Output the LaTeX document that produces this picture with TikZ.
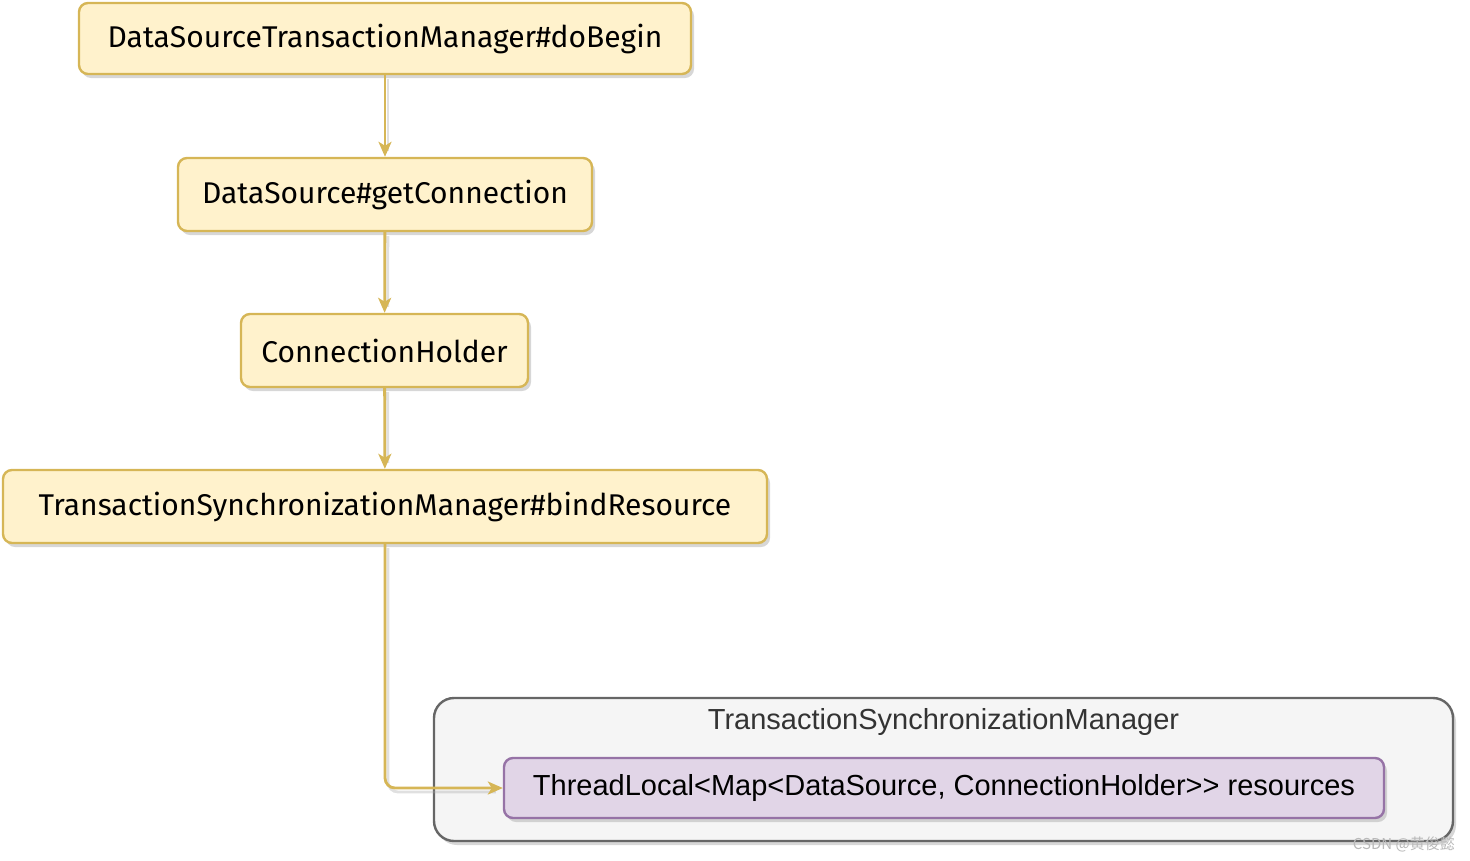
\documentclass[tikz,border=0pt]{standalone}
\usepackage{fontspec}
\setmainfont{Liberation Sans}
\newfontfamily\handfont{Fira Sans}
\newfontfamily\cjkfont{Noto Sans CJK SC}
\usetikzlibrary{shadows,arrows.meta}
\definecolor{yfill}{HTML}{FFF2CC}
\definecolor{ydraw}{HTML}{D6B656}
\definecolor{pfill}{HTML}{E1D5E7}
\definecolor{pdraw}{HTML}{9673A6}
\definecolor{gfill}{HTML}{F5F5F5}
\definecolor{gdraw}{HTML}{666666}
\tikzset{
  shad/.style={drop shadow={shadow xshift=3pt,shadow yshift=-4pt,fill=gray!70,opacity=0.45}},
  ybox/.style={draw=ydraw,fill=yfill,line width=2.4pt,rounded corners=9pt,shad,
    inner sep=0pt,font=\handfont\fontsize{30}{36}\selectfont},
  gbox/.style={draw=gdraw,fill=gfill,line width=2.4pt,rounded corners=20pt,shad},
  pbox/.style={draw=pdraw,fill=pfill,line width=2.4pt,rounded corners=9pt,shad,
    inner sep=0pt,font=\fontsize{29}{34}\selectfont},
  conn/.style={draw=ydraw,line width=2.8pt,-{Stealth[length=15pt,width=13pt,inset=4pt]},rounded corners=10pt},
  connshad/.style={draw=gray!70,opacity=0.35,line width=2.8pt,rounded corners=10pt,shorten >=10pt},
}
\begin{document}
\begin{tikzpicture}[x=1pt,y=-1pt]
\useasboundingbox (0,0) rectangle (1470,860);
\node[ybox,minimum width=612pt,minimum height=71pt] (a) at (385,38.5) {DataSourceTransactionManager\#doBegin};
\node[ybox,minimum width=414pt,minimum height=73pt] (b) at (385,194.5) {DataSource\#getConnection};
\node[ybox,minimum width=287pt,minimum height=73pt] (c) at (384.5,350.5) {ConnectionHolder};
\node[ybox,minimum width=764pt,minimum height=73pt] (d) at (385,506.5) {TransactionSynchronizationManager\#bindResource};
\node[gbox,minimum width=1019pt,minimum height=143pt] (g) at (943.5,769.5) {};
\node[font=\fontsize{29}{34}\selectfont,text=black!80] (gt) at (943.5,722) {TransactionSynchronizationManager};
\begin{scope}[transform canvas={xshift=3pt,yshift=-4pt}]
\draw[connshad] (a) -- (b);
\draw[connshad] (b) -- (c);
\draw[connshad] (c) -- (d);
\end{scope}
\node[pbox,minimum width=880pt,minimum height=60pt] (p) at (944,788) {ThreadLocal<Map<DataSource, ConnectionHolder>{}> resources};
\begin{scope}[transform canvas={xshift=3pt,yshift=-4pt}]
\draw[connshad] (d.south) |- (p.west);
\end{scope}
\draw[conn] (a) -- (b);
\draw[conn] (b) -- (c);
\draw[conn] (c) -- (d);
\draw[conn] (d.south) |- (p.west);
\node[font=\cjkfont\fontsize{15}{17}\selectfont,text=gray!55,anchor=south east,inner sep=1pt] (wm) at (1456,853) {CSDN @黄俊懿};
\end{tikzpicture}
\end{document}
